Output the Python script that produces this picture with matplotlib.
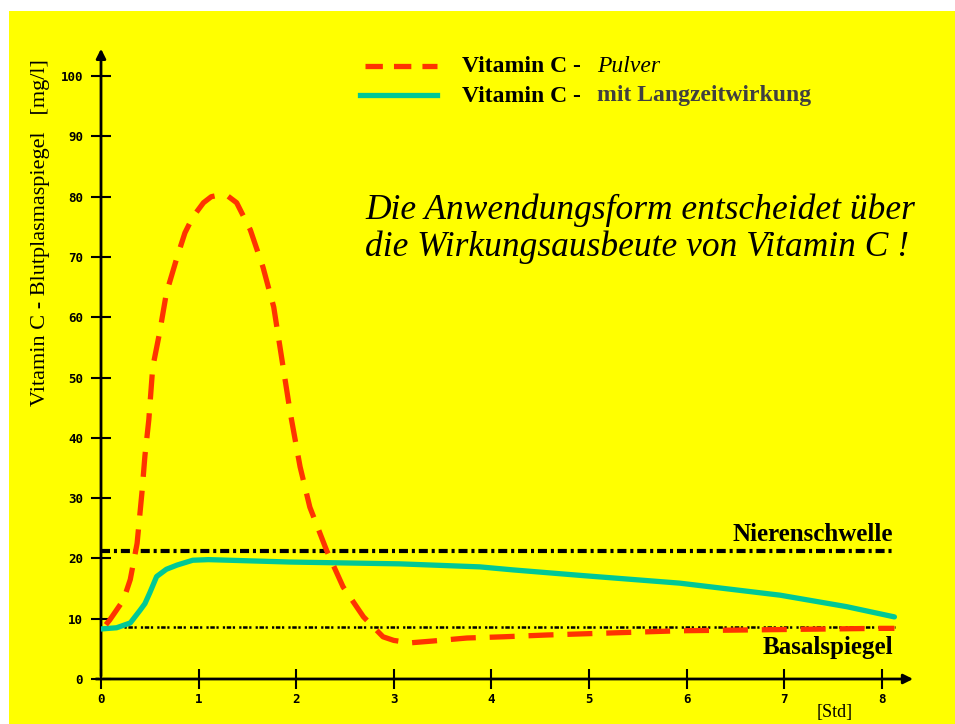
import matplotlib
matplotlib.use('Agg')
import matplotlib.pyplot as plt
from matplotlib.patches import Rectangle
from matplotlib.lines import Line2D
import numpy as np

# %%
# Daten
t_pulver = [0.05, 0.09, 0.23, 0.30, 0.37, 0.42, 0.45, 0.49, 0.53, 0.60, 0.67, 0.78,
            0.86, 0.94, 1.05, 1.13, 1.22, 1.30, 1.39, 1.53, 1.66, 1.77, 1.85, 1.94,
            2.04, 2.14, 2.31, 2.48, 2.69, 2.89, 3.00, 3.17, 3.40, 3.75, 4.12, 4.57,
            5.93, 7.98, 8.13]
c_pulver = [9.0, 9.8, 13.1, 16.5, 22.5, 31.0, 37.0, 43.0, 51.7, 57.4, 64.0, 70.0,
            74.0, 76.6, 79.0, 80.0, 80.3, 80.1, 79.0, 74.5, 68.3, 61.7, 53.4, 44.1,
            35.2, 28.5, 21.4, 15.3, 10.3, 7.0, 6.4, 6.0, 6.3, 6.8, 7.0, 7.3,
            8.0, 8.4, 8.4]

t_langzeit = [0.0, 0.16, 0.30, 0.40, 0.45, 0.50, 0.57, 0.67, 0.78, 0.94, 1.10,
              1.94, 3.06, 3.88, 4.22, 4.90, 5.93, 6.96, 7.64, 8.13]
c_langzeit = [8.3, 8.5, 9.3, 11.4, 12.5, 14.3, 17.0, 18.2, 18.9, 19.7, 19.8,
              19.4, 19.1, 18.6, 18.1, 17.2, 15.9, 13.9, 12.0, 10.3]

nierenschwelle = 21.2
basalspiegel = 8.6

yticks = list(range(0, 101, 10))
xticks = list(range(0, 9))

# %%
plt.rcParams['lines.scale_dashes'] = False
serif = 'Liberation Serif'

W, H = 955, 724
fig = plt.figure(figsize=(W / 100, H / 100), dpi=100)
fig.patch.set_facecolor('white')
# gelber Hintergrund
fig.patches.append(Rectangle((9 / W, 0), 1 - 9 / W, (H - 11) / H,
                             transform=fig.transFigure, facecolor='#FFFF00',
                             edgecolor='none', zorder=-10))

x0, x1 = 101, 911
y0, y1 = 679, 52
ax = fig.add_axes([x0 / W, (H - y0) / H, (x1 - x0) / W, (y0 - y1) / H])
ax.set_facecolor('none')
ax.set_xlim(0, 8.3)
ax.set_ylim(0, 104)
for s in ax.spines.values():
    s.set_visible(False)

# Achsen mit Pfeilen
ax.annotate('', xy=(0, 105), xytext=(0, 0), xycoords='data',
            arrowprops=dict(arrowstyle='-|>', color='black', lw=2, mutation_scale=14),
            annotation_clip=False)
ax.annotate('', xy=(8.35, 0), xytext=(-0.08, 0), xycoords='data',
            arrowprops=dict(arrowstyle='-|>', color='black', lw=2, mutation_scale=14),
            annotation_clip=False)

ax.set_yticks(yticks)
ax.set_yticklabels([str(v) for v in yticks], fontsize=9, fontweight='bold',
                   family='DejaVu Sans Mono')
ax.set_xticks(xticks)
ax.set_xticklabels([str(v) for v in xticks], fontsize=9, fontweight='bold',
                   family='DejaVu Sans Mono')
ax.tick_params(axis='both', direction='inout', length=14, width=1.5, color='black')
ax.tick_params(axis='y', pad=6)
ax.tick_params(axis='x', pad=3)

# Schwellen
ax.plot([0, 8.14], [nierenschwelle] * 2, color='black', lw=3,
        dashes=(6.5, 2.8, 2.2, 2.8), solid_capstyle='butt', dash_capstyle='butt')
ax.plot([0.24, 8.14], [basalspiegel] * 2, color='black', lw=1.8,
        dashes=(1.6, 1.2, 3.2, 1.2, 1.6, 3.0), dash_capstyle='butt')

# Kurven
ax.plot(t_langzeit, c_langzeit, color='#00C896', lw=3.8, solid_capstyle='round',
        solid_joinstyle='round', zorder=3)
ax.plot(t_pulver, c_pulver, color='#FF3300', lw=3.8, dashes=(18, 10),
        dash_capstyle='butt', dash_joinstyle='round', zorder=4)

ax.text(8.12, nierenschwelle + 0.9, 'Nierenschwelle', family=serif, fontweight='bold',
        fontsize=18, ha='right', va='bottom')
ax.text(8.12, basalspiegel - 1.4, 'Basalspiegel', family=serif, fontweight='bold',
        fontsize=18, ha='right', va='top')
ax.text(7.52, -5.6, '[Std]', family=serif, fontsize=13, ha='center', va='center')

# Achsenbeschriftung
fig.text(41 / W, 1 - 233 / H, 'Vitamin C - Blutplasmaspiegel   [mg/l]', family=serif,
         fontsize=16, rotation=90, ha='center', va='center')

# Legende
fig.lines.append(Line2D([365 / W, 437 / W], [1 - 66 / H] * 2, transform=fig.transFigure,
                        color='#FF3300', lw=3.8, dashes=(12.5, 8)))
fig.lines.append(Line2D([360 / W, 437 / W], [1 - 95 / H] * 2, transform=fig.transFigure,
                        color='#00C896', lw=3.8))
fig.text(462 / W, 1 - 66 / H, 'Vitamin C -', family=serif, fontweight='bold',
         fontsize=17, ha='left', va='center')
fig.text(597 / W, 1 - 66 / H, 'Pulver', family=serif, style='italic',
         fontsize=17, ha='left', va='center')
fig.text(462 / W, 1 - 96 / H, 'Vitamin C -', family=serif, fontweight='bold',
         fontsize=17, ha='left', va='center')
fig.text(597 / W, 1 - 96 / H, 'mit Langzeitwirkung', family=serif, fontweight='bold',
         fontsize=17, ha='left', va='center', color='#404040')

# Hinweistext
fig.text(365 / W, 1 - 210 / H, 'Die Anwendungsform entscheidet über', family=serif,
         style='italic', fontsize=25.5, ha='left', va='center')
fig.text(365 / W, 1 - 247 / H, 'die Wirkungsausbeute von Vitamin C !', family=serif,
         style='italic', fontsize=25.5, ha='left', va='center')

fig.savefig('out.png', dpi=100)
plt.close()
